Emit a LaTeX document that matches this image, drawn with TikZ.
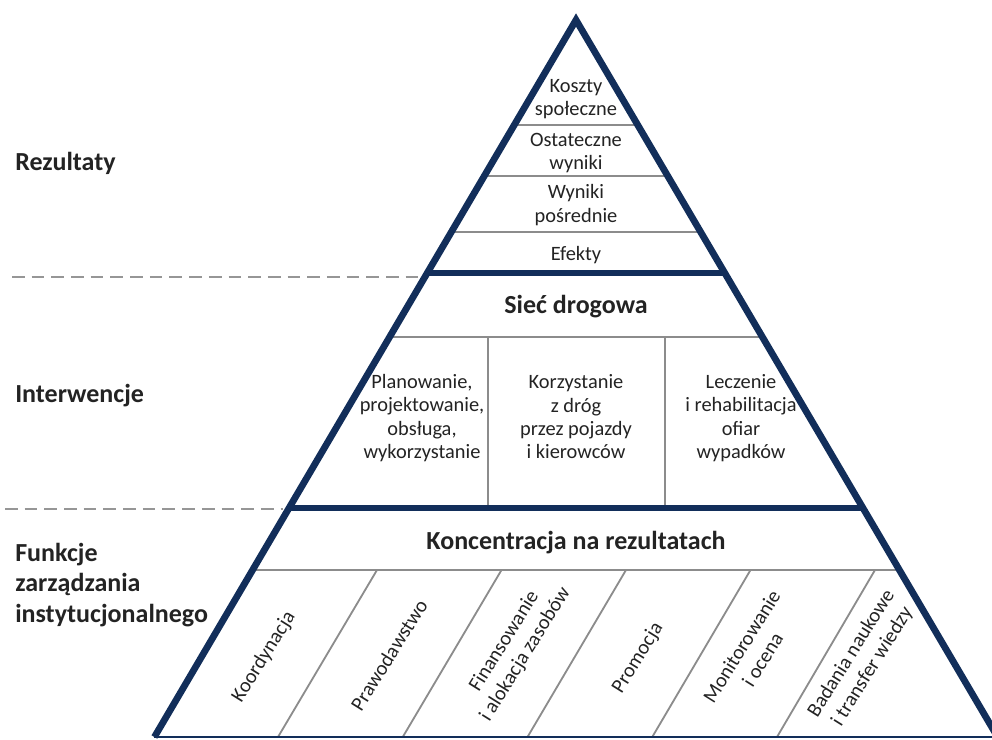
\documentclass[tikz,border=0pt]{standalone}
\usepackage{fontspec}
\setmainfont{Carlito}
\usetikzlibrary{calc,positioning}
\definecolor{pyrnavy}{RGB}{18,46,90}
\definecolor{rulegray}{RGB}{140,140,140}
\definecolor{dashgray}{RGB}{150,150,150}
\definecolor{inktext}{RGB}{35,35,35}
\tikzset{pyrline/.style={line width=4.8pt, draw=pyrnavy, line join=miter}}
\tikzset{grayrule/.style={line width=1.3pt, draw=rulegray}}
\tikzset{sepline/.style={line width=1.4pt, draw=dashgray, dash pattern=on 9pt off 5pt}}
\tikzset{celltext/.style={font=\fontsize{14.5}{16.6}\selectfont, align=center, text=inktext, inner sep=0pt}}
\tikzset{bandtext/.style={font=\fontsize{18.5}{21.5}\selectfont\bfseries, text=inktext, inner sep=0pt}}
\tikzset{sidetext/.style={font=\fontsize{18.5}{21.5}\selectfont\bfseries, align=left, anchor=west, text=inktext, inner sep=0pt}}
\tikzset{slanttext/.style={celltext, font=\fontsize{14.5}{17.5}\selectfont, rotate=58}}

\begin{document}
\begin{tikzpicture}[x=0.025cm, y=-0.025cm]
    \useasboundingbox (0,0) rectangle (992,740);
    \coordinate (apex) at (576,20);
    \coordinate (bl) at (154.4,737);
    \coordinate (br) at (997.6,737);

    % thin rules inside the pyramid
    \foreach \t in {0.1464,0.2176,0.2957,0.4421,0.7671}
        \draw[grayrule] ($(apex)!\t!(bl)$) -- ($(apex)!\t!(br)$);
    \draw[grayrule] (488,337) -- (488,508);
    \draw[grayrule] (665,337) -- (665,508);
    \foreach \i in {0,...,4}
        \draw[grayrule] (377+124.5*\i,570) -- (278+124.75*\i,737);

    % level borders
    \draw[sepline] (12,277) -- (418,277);
    \draw[sepline] (5,509) -- (283,509);
    \foreach \t in {0.3529,0.6806}
        \draw[pyrline] ($(apex)!\t!(bl)$) -- ($(apex)!\t!(br)$);
    \draw[pyrnavy, line width=1.5pt] (bl) -- (br);
    \draw[pyrline] (bl) -- (apex) -- (br);

    % results
    \node[celltext] (koszty) at (576,99) {Koszty\\społeczne};
    \node[celltext] (ostateczne) at (576,153) {Ostateczne\\wyniki};
    \node[celltext] (posrednie) at (576,205) {Wyniki\\pośrednie};
    \node[celltext] (efekty) at (576,255) {Efekty};

    % interventions
    \node[bandtext] (siec) at (576,307) {Sieć drogowa};
    \node[celltext] (planowanie) at (422,418) {Planowanie,\\projektowanie,\\obsługa,\\wykorzystanie};
    \node[celltext] (korzystanie) at (576,417) {Korzystanie\\z dróg\\przez pojazdy\\i kierowców};
    \node[celltext] (leczenie) at (741,418) {Leczenie\\i rehabilitacja\\ofiar\\wypadków};

    % management functions
    \node[bandtext] (koncentracja) at (576,543) {Koncentracja na rezultatach};
    \node[slanttext] (koordynacja) at (264,657) {Koordynacja};
    \node[slanttext] (prawo) at (389,655) {Prawodawstwo};
    \node[slanttext] (finanse) at (515,648) {Finansowanie\\i alokacja zasobów};
    \node[slanttext] (promocja) at (638,658) {Promocja};
    \node[slanttext] (monitor) at (752,653) {Monitorowanie\\i ocena};
    \node[slanttext] (badania) at (862,660) {Badania naukowe\\i transfer wiedzy};

    % side labels
    \node[sidetext] (rezultaty) at (15,163) {Rezultaty};
    \node[sidetext] (interwencje) at (15,396) {Interwencje};
    \node[sidetext] (funkcje) at (15,585) {Funkcje\\zarządzania\\instytucjonalnego};
\end{tikzpicture}
\end{document}
